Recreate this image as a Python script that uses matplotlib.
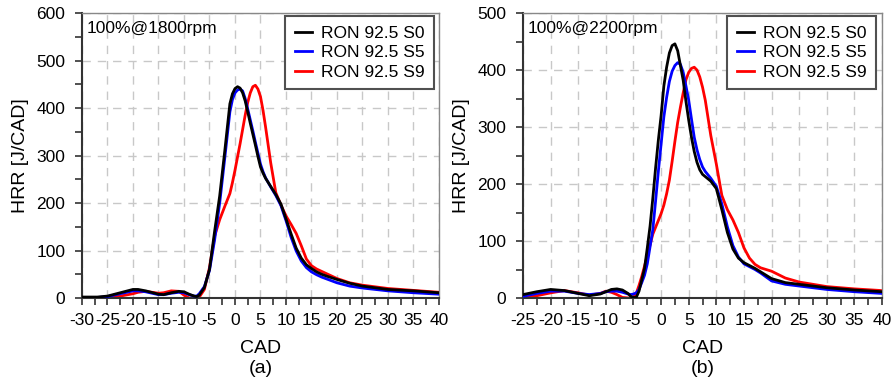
import numpy as np
import matplotlib
matplotlib.use("Agg")
import matplotlib.pyplot as plt
from matplotlib.ticker import MultipleLocator

plt.rcParams['font.family'] = ['Liberation Sans', 'DejaVu Sans']
plt.rcParams['axes.unicode_minus'] = False

labels = ["RON 92.5 S0", "RON 92.5 S5", "RON 92.5 S9"]
colors = ["#000000", "#0000ff", "#ff0000"]

# (a) 100% load @ 1800 rpm
cad_a = [-30, -27, -25, -22.5, -20, -19, -17.5, -15, -14, -12.5, -11, -10, -9, -8, -7.5, -7,
         -6, -5, -4, -3, -2, -1, -0.5, 0, 0.5, 1, 1.5, 2, 2.5, 3, 3.5, 4, 4.5, 5, 5.5, 6,
         7, 8, 9, 10, 11, 12, 13, 14, 15, 16, 17, 18, 20, 22.5, 25, 30, 35, 40]
s0_a = [2, 2, 4, 11, 18, 18, 15, 8, 7, 11, 14, 13, 8, 4, 3, 6,
        22, 60, 140, 215, 310, 409, 430, 441, 445, 442, 432, 415, 392, 368, 345, 322, 298, 276, 263, 252,
        235, 218, 198, 167, 135, 105, 84, 70, 62, 55, 50, 46, 39, 31, 25, 18, 15, 11]
s5_a = [1, 1, 3, 9, 15, 15, 13, 7, 7, 10, 12, 11, 7, 4, 4, 9,
        24, 58, 122, 200, 295, 392, 418, 432, 438, 440, 436, 420, 398, 375, 352, 328, 305, 282, 266, 253,
        234, 216, 195, 163, 128, 99, 78, 64, 55, 49, 44, 40, 32, 25, 21, 15, 11, 8]
s9_a = [1, 1, 1, 4, 9, 12, 14, 10, 11, 15, 14, 6, 0, 0, 0, 2,
        18, 64, 130, 165, 193, 220, 243, 269, 297, 325, 355, 385, 412, 432, 445, 448, 440, 424, 395, 360,
        285, 222, 196, 173, 155, 136, 110, 82, 68, 61, 56, 51, 41, 32, 27, 20, 16, 12]

# (b) 100% load @ 2200 rpm
cad_b = [-25, -22.5, -20, -17.5, -15, -13, -11, -10, -9, -8, -7, -6, -5.5, -5, -4.5, -4, -3.5,
         -3, -2.5, -2, -1.5, -1, -0.5, 0, 0.5, 1, 1.5, 2, 2.5, 3, 3.5, 4, 4.5, 5, 5.5, 6,
         6.5, 7, 7.5, 8, 9, 10, 11, 12, 13, 14, 15, 16, 17, 18, 20, 22.5, 25, 30, 35, 40]
s0_b = [6, 11, 15, 13, 8, 4, 7, 11, 15, 16, 14, 8, 3, 1, 1, 12, 32,
        52, 88, 126, 175, 228, 277, 320, 372, 405, 430, 443, 446, 434, 408, 382, 345, 312, 282, 257,
        238, 225, 217, 213, 205, 192, 155, 115, 86, 70, 62, 57, 52, 46, 34, 27, 24, 18, 14, 11]
s5_b = [3, 8, 12, 12, 8, 6, 8, 11, 12, 12, 10, 7, 6, 7, 9, 15, 27,
        40, 60, 90, 120, 170, 222, 270, 318, 352, 380, 398, 408, 413, 410, 396, 372, 347, 314, 282,
        260, 243, 230, 222, 210, 196, 165, 125, 92, 72, 60, 55, 50, 44, 30, 24, 21, 15, 11, 8]
s9_b = [1, 4, 9, 13, 9, 5, 8, 12, 10, 6, 1, 0, 0, 1, 8, 22, 38,
        56, 75, 93, 112, 124, 136, 148, 163, 183, 207, 240, 275, 308, 335, 360, 383, 396, 403, 405,
        400, 388, 370, 347, 285, 235, 180, 155, 137, 115, 88, 70, 59, 53, 47, 35, 28, 20, 16, 13]


def style_axes(ax, xlim, ylim, xmajor):
    ax.set_xlim(*xlim)
    ax.set_ylim(*ylim)
    ax.xaxis.set_major_locator(MultipleLocator(xmajor))
    ax.xaxis.set_minor_locator(MultipleLocator(2.5))
    ax.yaxis.set_major_locator(MultipleLocator(100))
    ax.yaxis.set_minor_locator(MultipleLocator(50))
    ax.grid(True, which='major', color='#c8c8c8', linestyle=(0, (6, 5)), linewidth=1.0)
    ax.set_axisbelow(True)
    for side in ['left', 'bottom']:
        ax.spines[side].set_color('#333333')
        ax.spines[side].set_linewidth(1.5)
    for side in ['top', 'right']:
        ax.spines[side].set_color('#888888')
        ax.spines[side].set_linewidth(1.0)
    ax.tick_params(which='both', direction='out', length=5, width=1.2, color='#333333',
                   labelsize=12.5, top=False, right=False)
    ax.tick_params(axis='y', pad=7)
    ax.tick_params(axis='x', pad=6)
    ax.set_ylabel('HRR [J/CAD]', fontsize=14, va='center')
    ax.set_xlabel('CAD', fontsize=14, va='center')
    ax.xaxis.set_label_coords(0.5, -0.178)
    ax.yaxis.set_label_coords(-0.172, 0.5)


fig = plt.figure(figsize=(8.93, 3.85), dpi=100)
ax1 = fig.add_axes([0.0918, 0.226, 0.3998, 0.740])
ax2 = fig.add_axes([0.5857, 0.226, 0.4020, 0.740])

panels = [
    (ax1, cad_a, [s0_a, s5_a, s9_a], (-30, 40), (0, 600), '100%@1800rpm', '(a)', 0.986),
    (ax2, cad_b, [s0_b, s5_b, s9_b], (-25, 40), (0, 500), '100%@2200rpm', '(b)', 0.983),
]

for ax, cad, series, xlim, ylim, cond, tag, lx in panels:
    for y, lab, c, z in zip(series, labels, colors, [4, 3, 2]):
        ax.plot(cad, y, color=c, lw=2.0, label=lab, zorder=z)
    style_axes(ax, xlim, ylim, 5)
    ax.text(0.014, 0.972, cond, transform=ax.transAxes, ha='left', va='top', fontsize=12.5)
    ax.text(0.5, -0.248, tag, transform=ax.transAxes, ha='center', va='center', fontsize=14)
    leg = ax.legend(loc='upper right', bbox_to_anchor=(lx, 0.9895), borderaxespad=0,
                    fontsize=12.5, fancybox=False, framealpha=1, edgecolor='#505050',
                    handlelength=1.0, handletextpad=0.5, borderpad=0.55, labelspacing=0.25)
    leg.get_frame().set_linewidth(1.5)

fig.savefig('out.png', dpi=100)
